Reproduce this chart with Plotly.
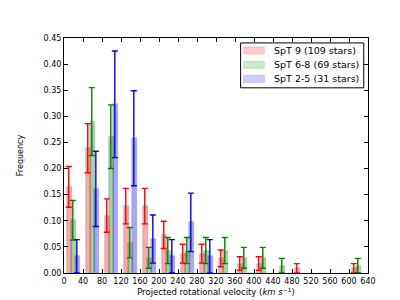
import plotly.graph_objects as go

bin_left = [0, 40, 80, 120, 160, 200, 240, 280, 320, 360, 400, 440, 480, 520, 560, 600]

red_freq = [0.165, 0.239, 0.110, 0.128, 0.128, 0.073, 0.037, 0.037, 0.028, 0.018, 0.018, None, 0.009, None, None, 0.009]
red_err = [0.039, 0.047, 0.032, 0.034, 0.034, 0.026, 0.018, 0.018, 0.016, 0.013, 0.013, None, 0.009, None, None, 0.009]

green_freq = [0.101, 0.290, 0.261, 0.058, 0.029, 0.043, 0.043, 0.043, 0.043, 0.029, 0.029, 0.014, None, None, None, 0.014]
green_err = [0.038, 0.065, 0.061, 0.029, 0.020, 0.025, 0.025, 0.025, 0.025, 0.020, 0.020, 0.014, None, None, None, 0.014]

blue_freq = [0.032, 0.161, 0.323, 0.258, 0.065, 0.032, 0.097, 0.032, None, None, None, None, None, None, None, None]
blue_err = [0.032, 0.072, 0.102, 0.091, 0.046, 0.032, 0.056, 0.032, None, None, None, None, None, None, None, None]

legend_labels = ["SpT 9 (109 stars)", "SpT 6-8 (69 stars)", "SpT 2-5 (31 stars)"]

series = [
    (legend_labels[0], red_freq, red_err, "rgba(255,0,0,0.35)", "rgb(255,0,0)", 12, 10, "rgba(255,0,0,0.2)"),
    (legend_labels[1], green_freq, green_err, "rgba(0,128,0,0.35)", "rgb(0,128,0)", 20.5, 18.5, "rgba(0,128,0,0.2)"),
    (legend_labels[2], blue_freq, blue_err, "rgba(0,0,255,0.35)", "rgb(0,0,255)", 29, 27, "rgba(0,0,255,0.2)"),
]

fig = go.Figure()
for name, freq, err, fill, line, boff, eoff, lfill in series:
    xs = [b + boff for b, f in zip(bin_left, freq) if f is not None]
    ys = [f for f in freq if f is not None]
    fig.add_trace(go.Bar(
        x=xs, y=ys, width=10, name=name,
        marker=dict(color=fill, line=dict(color="rgba(110,110,110,0.45)", width=0.6)),
        showlegend=False,
    ))
for name, freq, err, fill, line, boff, eoff, lfill in series:
    xs = [b + eoff for b, f in zip(bin_left, freq) if f is not None]
    ys = [f for f in freq if f is not None]
    es = [e for e in err if e is not None]
    fig.add_trace(go.Scatter(
        x=xs, y=ys, mode="markers", marker=dict(size=0.1, color=line, opacity=0),
        error_y=dict(type="data", array=es, visible=True, color=line, thickness=1.4, width=3),
        showlegend=False, hoverinfo="skip",
    ))

# manual legend (matplotlib-style box)
shapes = [dict(type="rect", xref="paper", yref="paper", x0=0.581, x1=0.986, y0=0.788, y1=0.979,
               line=dict(color="black", width=1), fillcolor="white", layer="above")]
annotations = []
row_y = [0.947, 0.886, 0.826]
for (name, freq, err, fill, line, boff, eoff, lfill), ry in zip(series, row_y):
    shapes.append(dict(type="rect", xref="paper", yref="paper", x0=0.591, x1=0.659,
                       y0=ry - 0.015, y1=ry + 0.015, fillcolor=lfill,
                       line=dict(color=lfill, width=0.8), layer="above"))
    annotations.append(dict(xref="paper", yref="paper", x=0.684, y=ry, text=name,
                            showarrow=False, xanchor="left", yanchor="middle",
                            font=dict(size=9.5, family="DejaVu Sans", color="black")))

fig.update_layout(
    width=400, height=300,
    margin=dict(l=50, r=40, t=30, b=31),
    paper_bgcolor="white", plot_bgcolor="white",
    barmode="overlay", bargap=0,
    font=dict(family="DejaVu Sans", size=8, color="black"),
    showlegend=False,
    shapes=shapes, annotations=annotations,
)
fig.update_xaxes(
    range=[0, 640], tickmode="array", tickvals=list(range(0, 641, 40)),
    ticks="inside", ticklen=4, tickcolor="black", mirror="ticks", tickangle=0,
    showline=True, linecolor="black", linewidth=1, showgrid=False, zeroline=False,
    title=dict(text="Projected rotational velocity (<i>km s</i><sup>−1</sup>)", font=dict(size=8.5), standoff=4),
    tickfont=dict(size=8),
)
fig.update_yaxes(
    range=[0, 0.45], tickmode="array", tickvals=[i * 0.05 for i in range(10)],
    tickformat=".2f",
    ticks="inside", ticklen=4, tickcolor="black", mirror="ticks",
    showline=True, linecolor="black", linewidth=1, showgrid=False, zeroline=False,
    title=dict(text="Frequency", font=dict(size=8), standoff=18),
    tickfont=dict(size=8),
)

fig.write_html("out.html")
